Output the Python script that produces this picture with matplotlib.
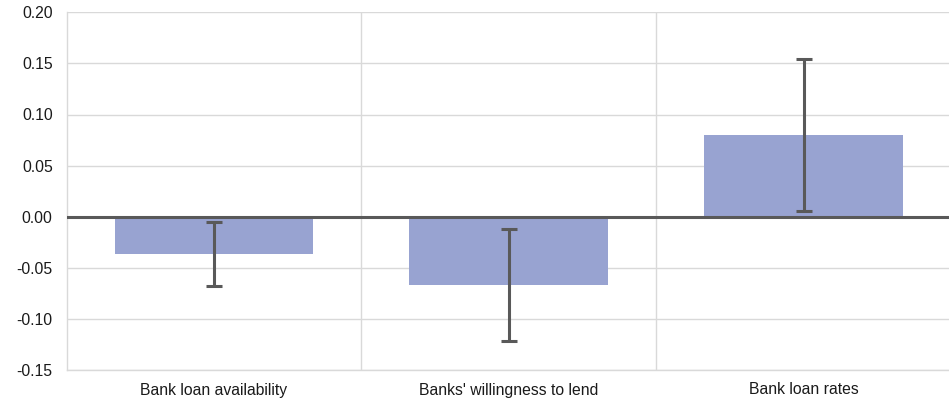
import matplotlib
matplotlib.use("Agg")
import matplotlib.pyplot as plt
import numpy as np

plt.rcParams['font.family'] = ['Liberation Sans', 'DejaVu Sans']

categories = ["Bank loan availability", "Banks' willingness to lend", "Bank loan rates"]
values = [-0.0365, -0.0668, 0.0802]
errors = [0.0313, 0.0548, 0.0745]
yticks = [-0.15, -0.10, -0.05, 0.00, 0.05, 0.10, 0.15, 0.20]

fig = plt.figure(figsize=(9.49, 4.03), dpi=100)
ax = fig.add_axes([66.6 / 949, 1 - 370 / 403, (951.1 - 66.6) / 949, (370 - 12.3) / 403])

x = np.arange(len(categories))
grid_c = "#d9d9d9"
dark = "#595959"

ax.bar(x, values, width=0.674, color="#98a3d1", zorder=2)
ax.errorbar(x, values, yerr=errors, fmt="none", ecolor=dark, elinewidth=2.2,
            capsize=6, capthick=2.2, zorder=4)
ax.axhline(0, color=dark, linewidth=2.2, zorder=3)

ax.set_xlim(-0.5, len(categories) - 0.5)
ax.set_ylim(-0.15, 0.20)
ax.set_yticks(yticks)
ax.set_yticklabels([f"{t:.2f}" for t in yticks])
ax.set_xticks(x)
ax.set_xticklabels(categories)

for yv in yticks:
    ax.axhline(yv, color=grid_c, linewidth=1, zorder=0)
for b in np.arange(0.5, len(categories) - 0.5, 1.0):
    ax.axvline(b, color=grid_c, linewidth=1, zorder=0)

for side in ["top", "right"]:
    ax.spines[side].set_visible(False)
for side in ["left", "bottom"]:
    ax.spines[side].set_color(grid_c)
    ax.spines[side].set_linewidth(1)

ax.tick_params(axis="both", length=0, labelsize=11.3, colors="#1a1a1a")
ax.tick_params(axis="y", pad=10)
ax.tick_params(axis="x", pad=9)

fig.savefig("out.png", dpi=100)
